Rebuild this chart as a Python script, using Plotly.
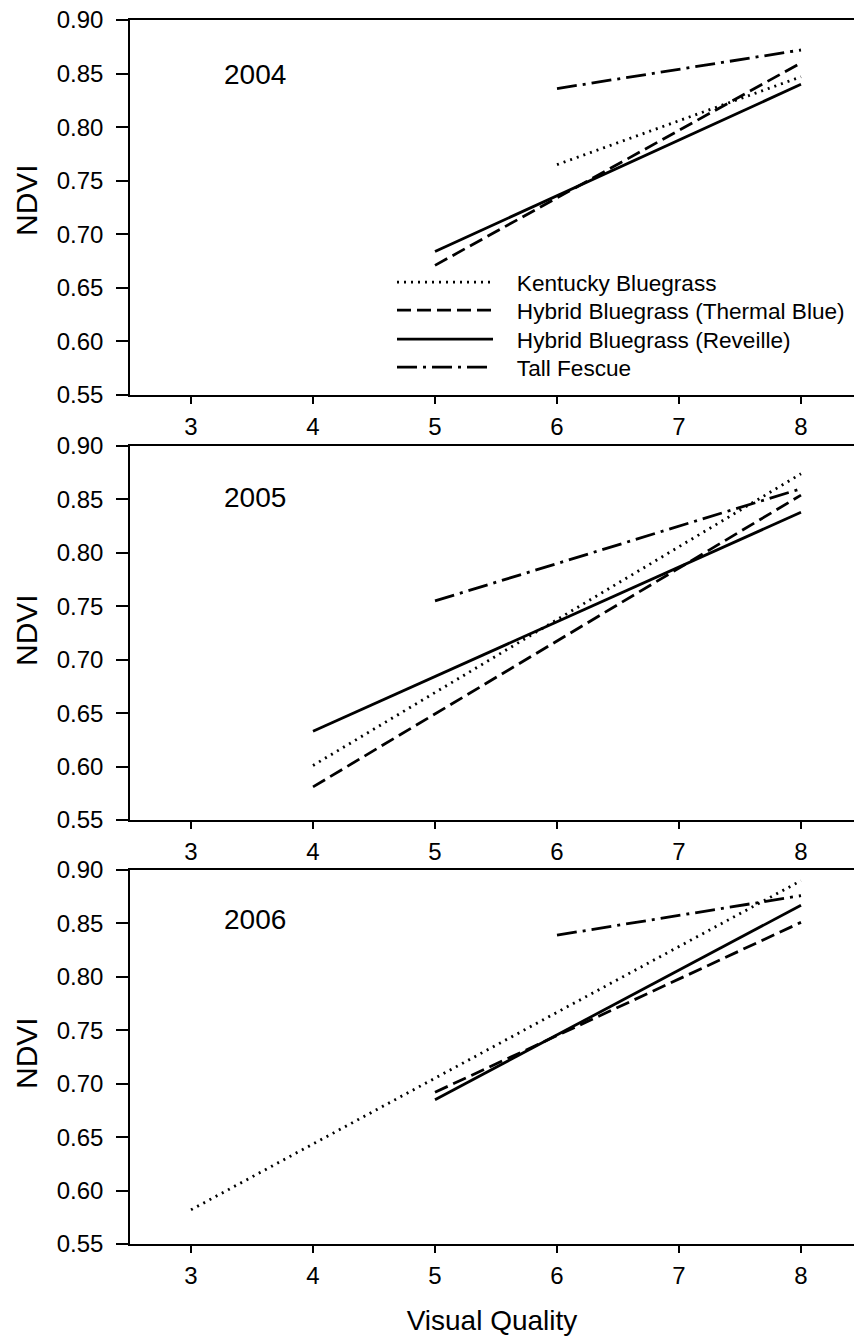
import plotly.graph_objects as go

series_names = ["Kentucky Bluegrass", "Hybrid Bluegrass (Thermal Blue)",
                "Hybrid Bluegrass (Reveille)", "Tall Fescue"]
years = ["2004", "2005", "2006"]

# x endpoints (visual quality) and NDVI endpoints for each year/series
x_2004 = {"Kentucky Bluegrass": [6, 8], "Hybrid Bluegrass (Thermal Blue)": [5, 8],
          "Hybrid Bluegrass (Reveille)": [5, 8], "Tall Fescue": [6, 8]}
y_2004 = {"Kentucky Bluegrass": [0.765, 0.847], "Hybrid Bluegrass (Thermal Blue)": [0.671, 0.860],
          "Hybrid Bluegrass (Reveille)": [0.684, 0.840], "Tall Fescue": [0.836, 0.872]}

x_2005 = {"Kentucky Bluegrass": [4, 8], "Hybrid Bluegrass (Thermal Blue)": [4, 8],
          "Hybrid Bluegrass (Reveille)": [4, 8], "Tall Fescue": [5, 8]}
y_2005 = {"Kentucky Bluegrass": [0.601, 0.874], "Hybrid Bluegrass (Thermal Blue)": [0.581, 0.854],
          "Hybrid Bluegrass (Reveille)": [0.633, 0.838], "Tall Fescue": [0.755, 0.860]}

x_2006 = {"Kentucky Bluegrass": [3, 8], "Hybrid Bluegrass (Thermal Blue)": [5, 8],
          "Hybrid Bluegrass (Reveille)": [5, 8], "Tall Fescue": [6, 8]}
y_2006 = {"Kentucky Bluegrass": [0.582, 0.890], "Hybrid Bluegrass (Thermal Blue)": [0.692, 0.851],
          "Hybrid Bluegrass (Reveille)": [0.685, 0.867], "Tall Fescue": [0.839, 0.876]}

x_ticks = [3, 4, 5, 6, 7, 8]
y_ticks = [0.55, 0.60, 0.65, 0.70, 0.75, 0.80, 0.85, 0.90]

dash_styles = {"Kentucky Bluegrass": "2px,5px",
               "Hybrid Bluegrass (Thermal Blue)": "14px,6px",
               "Hybrid Bluegrass (Reveille)": "solid",
               "Tall Fescue": "20px,6px,3px,6px"}

# page has an 8px body margin: figure sized so that it fits inside the 862x1344 window
OFF = 8
W, H = 862 - 2 * OFF, 1344 - 2 * OFF


def px_x(px):
    return (px - OFF) / W


def px_y(py):
    return 1 - (py - OFF) / H


panels_px = [(20, 395), (446, 820), (870, 1244)]  # page pixel top/bottom of each panel
left_px = 130
unit_px = 122.0  # pixels per visual-quality unit in the reference
x_lo = 2.5
x_hi = x_lo + (OFF + W - left_px) / unit_px

FONT = "Liberation Sans, Arial, sans-serif"
GAP = "\u00a0\u00a0\u00a0"

fig = go.Figure()
data = [(x_2004, y_2004), (x_2005, y_2005), (x_2006, y_2006)]
legend_ids = ["legend", "legend2", "legend3", "legend4"]
for i, (xd, yd) in enumerate(data):
    suffix = "" if i == 0 else str(i + 1)
    for k, name in enumerate(series_names):
        fig.add_trace(go.Scatter(
            x=xd[name], y=yd[name], mode="lines", name=GAP + name,
            line=dict(color="black", width=2.8, dash=dash_styles[name]),
            showlegend=(i == 0), legend=legend_ids[k],
            xaxis="x" + suffix, yaxis="y" + suffix,
        ))

layout = dict(
    template="none",
    width=W, height=H, margin=dict(l=0, r=0, t=0, b=0, autoexpand=False),
    paper_bgcolor="white", plot_bgcolor="white",
    font=dict(family=FONT, color="black"),
    showlegend=True,
)
row_centers = [283, 311, 340, 368]
for k, lid in enumerate(legend_ids):
    layout[lid] = dict(x=px_x(392), y=px_y(row_centers[k] - 22),
                       xanchor="left", yanchor="top",
                       bgcolor="rgba(0,0,0,0)", borderwidth=0,
                       font=dict(size=22.6, family=FONT), itemwidth=96)

for i, (top, bot) in enumerate(panels_px):
    suffix = "" if i == 0 else str(i + 1)
    layout["xaxis" + suffix] = dict(
        domain=[px_x(left_px), 1], range=[x_lo, x_hi], anchor="y" + suffix,
        tickvals=x_ticks, ticks="outside", ticklen=7, tickwidth=1.5, tickcolor="black",
        showline=True, linecolor="black", linewidth=1.6, mirror=True,
        showgrid=False, zeroline=False, tickfont=dict(size=24, family=FONT),
        ticklabelstandoff=2, automargin=False, ticklabeloverflow="allow",
        title=dict(text="Visual Quality" if i == 2 else "", font=dict(size=28, family=FONT),
                   standoff=27),
    )
    layout["yaxis" + suffix] = dict(
        domain=[px_y(bot), px_y(top)], range=[0.55, 0.90], anchor="x" + suffix,
        tickvals=y_ticks, ticktext=[f"{v:.2f}" for v in y_ticks],
        ticks="outside", ticklen=12, tickwidth=1.5, tickcolor="black",
        showline=True, linecolor="black", linewidth=1.6,
        showgrid=False, zeroline=False, tickfont=dict(size=24, family=FONT),
        ticklabelstandoff=8, automargin=False, ticklabeloverflow="allow",
    )
fig.update_layout(**layout)

# y-axis titles
ndvi_y_px = [200, 630, 1053]
for ypx in ndvi_y_px:
    fig.add_annotation(text="NDVI", x=px_x(26), y=px_y(ypx), xref="paper", yref="paper",
                       showarrow=False, textangle=-90, font=dict(size=30, family=FONT),
                       xanchor="center", yanchor="middle")

year_y_px = [75, 497, 919]
for yr, ypx in zip(years, year_y_px):
    fig.add_annotation(text=yr, x=px_x(255), y=px_y(ypx), xref="paper", yref="paper",
                       showarrow=False, font=dict(size=28, family=FONT),
                       xanchor="center", yanchor="middle")

fig.write_html("out.html")
